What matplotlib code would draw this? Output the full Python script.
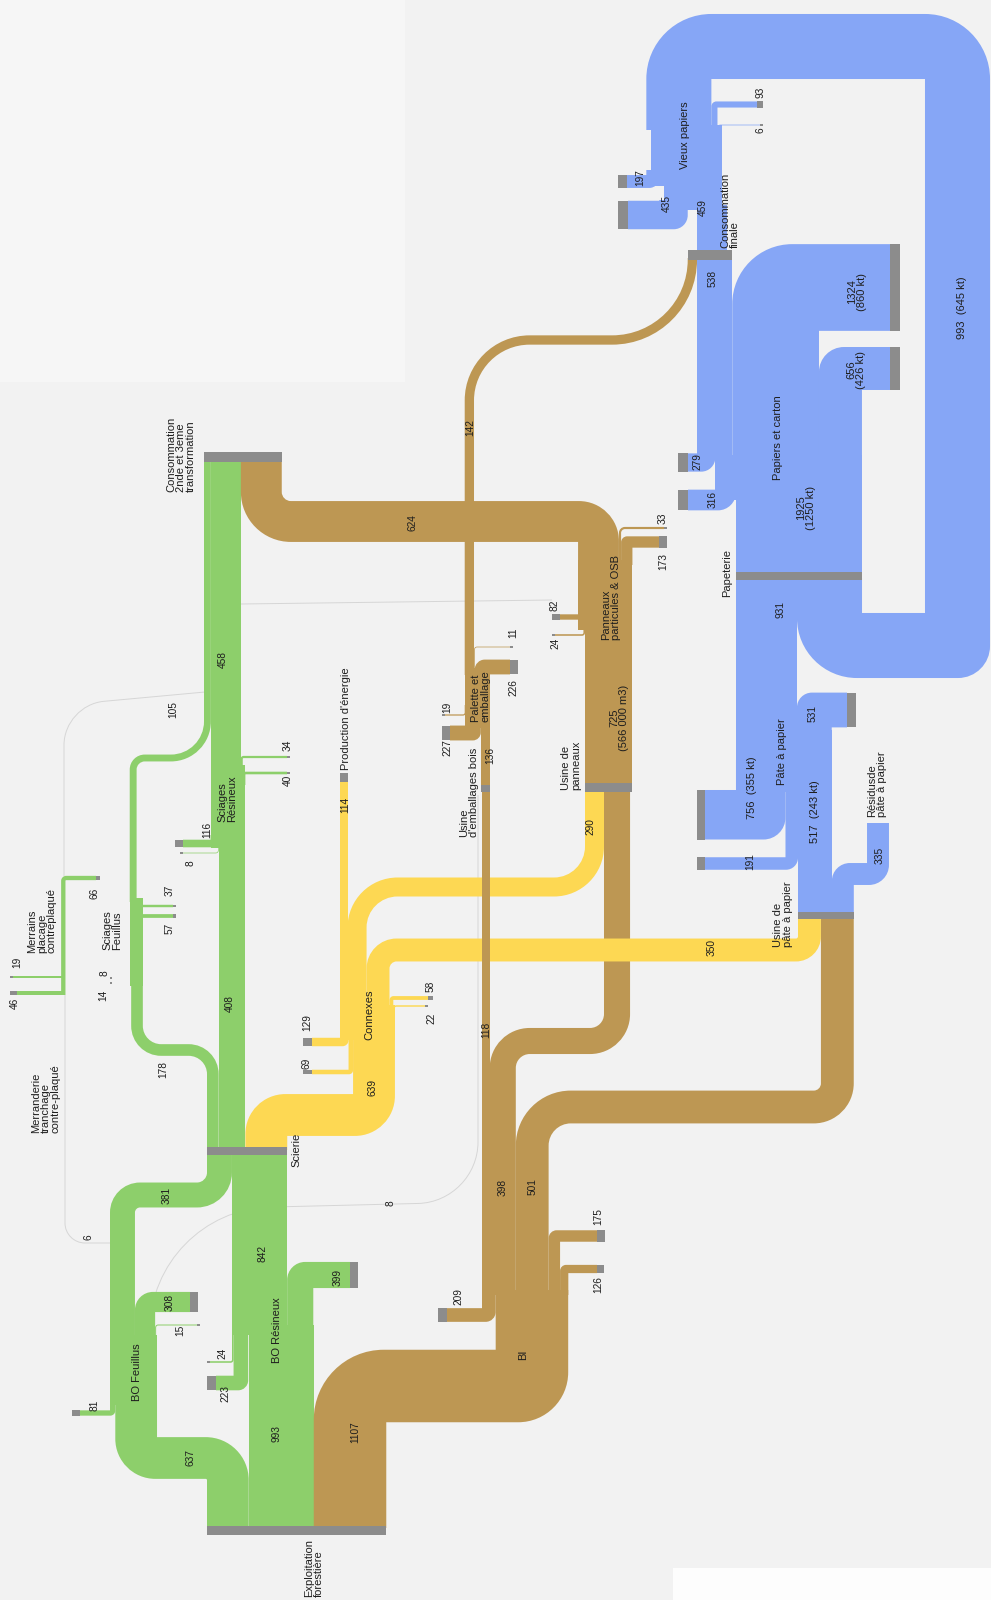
import numpy as np
import matplotlib.pyplot as plt
from matplotlib.path import Path
from matplotlib.patches import PathPatch, Rectangle

plt.rcParams['font.family'] = ['Liberation Sans', 'DejaVu Sans']

# flows
exploit_out = [637, 993, 1107]          # BO Feuillus, BO Résineux, BI
bo_feuillus_in = [81]
bo_feuillus_out = [381, 308, 15, 8, 6]
bo_resineux_in = [24, 223]
bo_resineux_out = [842, 399]
scierie_out = [178, 408, 639]
sc_feuillus_in = [14, 8]
sc_feuillus_out = [105, 37, 57]
sc_resineux_in = [116, 8]
sc_resineux_out = [458, 34, 40]
merrains_in = [46, 19]
merrains_out = [66]
connexes_in = [129, 69]
connexes_out = [114, 290, 350, 58, 22]
bi_in = [209]
bi_out = [118, 398, 501, 175, 126]
emballages_out = [136]
palette_in = [19, 227]
palette_out = [142, 11, 226]
panneaux_in = [82, 24]
panneaux_prod = [725]
panneaux_out = [624, 33, 173]
usine_pate_out = [517, 335]
pate_in = [756, 191]
pate_out = [931, 531]
papeterie_prod = [1925]
papiers_in = [279, 316]
papiers_out = [538, 1324, 656]
conso_finale_out = [459]
vieux_in = [197, 435]
vieux_out = [993, 93, 6]
kt_papier = [1250, 860, 426, 645]   # 1925, 1324, 656, 993
kt_pate = [355, 243]                # 756, 517
m3_panneaux = '566 000'

GREEN = '#8dcf6b'
BROWN = '#bd9753'
YELLOW = '#fdd853'
BLUE = '#86a6f6'
GREY = '#8c8c8c'
BG = '#f2f2f2'
TXT = '#1e1e1e'

K = 0.0655   # px per unit

fig = plt.figure(figsize=(9.91, 16), dpi=100)
fig.patch.set_facecolor(BG)
ax = fig.add_axes([0, 0, 1, 1])
ax.set_xlim(0, 991)
ax.set_ylim(1600, 0)
ax.axis('off')
ax.set_facecolor(BG)

ax.add_patch(Rectangle((0, 0), 405, 382, fc='#f6f6f6', ec='none', zorder=0))
ax.add_patch(Rectangle((673, 1568), 320, 40, fc='#fdfdfd', ec='none', zorder=0))


def px(v):
    return v * K


def stack(x0, vals):
    e = x0 + np.concatenate([[0.0], np.cumsum(vals)]) * K
    return list((e[:-1] + e[1:]) / 2), list(e)


def rounded(poly, rad, closed=True):
    P = [np.asarray(q, float) for q in poly]
    n = len(P)
    kk = 0.5523
    verts, codes = [], []
    for i in range(n):
        p, r = P[i], rad[i]
        if r <= 0 or (not closed and (i == 0 or i == n - 1)):
            verts.append(p)
            codes.append(Path.LINETO)
            continue
        a, b = P[i - 1], P[(i + 1) % n]
        la, lb = np.hypot(*(a - p)), np.hypot(*(b - p))
        ra, rb = rad[i - 1], rad[(i + 1) % n]
        r = min(r, la * r / (r + ra), lb * r / (r + rb))
        t1 = p + (a - p) / la * r
        t2 = p + (b - p) / lb * r
        verts += [t1, t1 + (p - t1) * kk, t2 + (p - t2) * kk, t2]
        codes += [Path.LINETO, Path.CURVE4, Path.CURVE4, Path.CURVE4]
    codes[0] = Path.MOVETO
    if closed:
        verts.append(verts[0])
        codes.append(Path.CLOSEPOLY)
    return Path(verts, codes)


def band(v, pts, color, ro=20, z=2, minw=0.7):
    w = max(px(v), minw)
    p = np.asarray(pts, float)
    d = np.diff(p, axis=0)
    d /= np.hypot(d[:, 0], d[:, 1])[:, None]
    nv = np.column_stack([-d[:, 1], d[:, 0]])
    n = len(p)
    if np.isscalar(ro):
        ro = [ro] * (n - 2)
    L, R, rl, rr = [], [], [0.0] * n, [0.0] * n
    for i in range(n):
        if i == 0:
            m = nv[0]
        elif i == n - 1:
            m = nv[-1]
        else:
            a, b = nv[i - 1], nv[i]
            m = (a + b) / (1 + a @ b)
            c = d[i - 1, 0] * d[i, 1] - d[i - 1, 1] * d[i, 0]
            r_out = ro[i - 1]
            r_in = max(r_out - w, 0)
            if c > 0:
                rl[i], rr[i] = r_in, r_out
            elif c < 0:
                rl[i], rr[i] = r_out, r_in
        L.append(p[i] + m * w / 2)
        R.append(p[i] - m * w / 2)
    path = rounded(L + R[::-1], rl + rr[::-1])
    ax.add_patch(PathPatch(path, fc=color, ec='none', lw=0, zorder=z))


def faint(pts, radii, color='#d6d6d6', lw=0.7):
    path = rounded(pts, [0] + radii + [0], closed=False)
    ax.add_patch(PathPatch(path, fc='none', ec=color, lw=lw, zorder=1))


def bar(x0, x1, y0, y1):
    ax.add_patch(Rectangle((x0, y0), x1 - x0, y1 - y0, fc=GREY, ec='none', zorder=5))


def cap(x0, x1, yc, v):
    h = max(px(v), 1.3)
    bar(x0, x1, yc - h / 2, yc + h / 2)


def txt(s, x, y, size=7.6, ha='center', ma='left'):
    ax.text(x, y, s, rotation=90, rotation_mode='anchor', ha=ha, va='center',
            multialignment=ma, fontsize=size, color=TXT, linespacing=0.95, zorder=10)


def num(v, x, y):
    txt(str(v), x, y, size=7.3)


# ---------------- Exploitation forestière ----------------
c_ex, e_ex = stack(207, exploit_out)
bar(e_ex[0], e_ex[-1], 1526, 1535)
txt('Exploitation\nforestière', 314, 1597, size=8, ha='left')

# ---------------- BO Feuillus ----------------
c_bfi, e_bfi = stack(110, bo_feuillus_in + exploit_out[:1])
band(exploit_out[0], [(c_ex[0], 1528), (c_ex[0], 1458), (c_bfi[1], 1458), (c_bfi[1], 1400)], GREEN, [43, 40])
band(bo_feuillus_in[0], [(80, 1413), (c_bfi[0], 1413), (c_bfi[0], 1400)], GREEN, [5])
cap(72, 80, 1413, bo_feuillus_in[0])
tot_bf = sum(bo_feuillus_in) + exploit_out[0]
band(tot_bf, [(110 + px(tot_bf) / 2, 1405), (110 + px(tot_bf) / 2, 1335)], GREEN)

c_sci, e_sci = stack(207, [bo_feuillus_out[0], bo_resineux_out[0]])
bar(207, e_sci[-1], 1147, 1155)

c_bfo, e_bfo = stack(110, bo_feuillus_out[:3])
band(bo_feuillus_out[0], [(c_bfo[0], 1340), (c_bfo[0], 1195), (c_sci[0], 1195), (c_sci[0], 1152)], GREEN, [30, 35])
band(bo_feuillus_out[1], [(c_bfo[1], 1340), (c_bfo[1], 1302), (190, 1302)], GREEN, [18])
cap(190, 198, 1302, bo_feuillus_out[1])
band(bo_feuillus_out[2], [(c_bfo[2], 1340), (c_bfo[2], 1325), (197, 1325)], GREEN, [3])
cap(197, 200, 1325, bo_feuillus_out[2])

# faint small flows
faint([(112, 1243), (65, 1243), (65, 995)], [20])
faint([(64, 876), (64, 705), (205, 692)], [40])
faint([(150, 1395), (150, 1210), (478, 1202), (478, 795)], [120, 60])
faint([(241, 604), (552, 600)], [])

# ---------------- BO Résineux ----------------
band(exploit_out[1], [(c_ex[1], 1528), (c_ex[1], 1325)], GREEN)
c_bri, _ = stack(232, bo_resineux_in)
band(bo_resineux_in[1], [(216, 1383), (c_bri[1], 1383), (c_bri[1], 1325)], GREEN, [10])
cap(207, 216, 1383, bo_resineux_in[1])
band(bo_resineux_in[0], [(210, 1362), (c_bri[0], 1362), (c_bri[0], 1328)], GREEN, [3])
cap(207, 210, 1362, bo_resineux_in[0])
c_bro, _ = stack(232, bo_resineux_out)
band(bo_resineux_out[0], [(c_bro[0], 1335), (c_bro[0], 1152)], GREEN)
band(bo_resineux_out[1], [(c_bro[1], 1335), (c_bro[1], 1275), (350, 1275)], GREEN, [18])
cap(350, 358, 1275, bo_resineux_out[1])

# ---------------- Scierie outputs ----------------
c_so, e_so = stack(207, scierie_out)
c_cons, e_cons = stack(204, [sc_feuillus_out[0], sc_resineux_out[0], panneaux_out[0]])
bar(204, e_cons[-1], 452, 462)

# Sciages Feuillus
band(scierie_out[0], [(c_so[0], 1150), (c_so[0], 1050), (137, 1050), (137, 980)], GREEN, [30, 30])
tot_sf = scierie_out[0] + sum(sc_feuillus_in)
x0_sf = 137 + px(scierie_out[0]) / 2 - px(tot_sf)
band(tot_sf, [(x0_sf + px(tot_sf) / 2, 986), (x0_sf + px(tot_sf) / 2, 898)], GREEN)
band(sc_feuillus_in[0], [(112, 983), (x0_sf + 1, 983)], GREEN)
cap(110, 112, 983, sc_feuillus_in[0])
band(sc_feuillus_in[1], [(112, 978), (x0_sf + 1, 978)], GREEN)
cap(110, 112, 978, sc_feuillus_in[1])
c_sfo, _ = stack(x0_sf, sc_feuillus_out)
band(sc_feuillus_out[2], [(c_sfo[2], 925), (c_sfo[2], 916), (173, 916)], GREEN, [4])
cap(173, 176, 916, sc_feuillus_out[2])
band(sc_feuillus_out[1], [(c_sfo[1], 920), (c_sfo[1], 906), (173, 906)], GREEN, [4])
cap(173, 176, 906, sc_feuillus_out[1])
band(sc_feuillus_out[0], [(c_sfo[0], 902), (c_sfo[0], 758), (c_cons[0], 758), (c_cons[0], 460)], GREEN, [15, 40])

# Sciages Résineux
band(scierie_out[1], [(c_so[1], 1150), (c_so[1], 843)], GREEN)
tot_sr = scierie_out[1] + sum(sc_resineux_in)
x0_sr = e_so[2] - px(tot_sr)
c_sri, _ = stack(x0_sr, sc_resineux_in)
band(sc_resineux_in[0], [(183, 843.5), (c_sri[0], 843.5), (c_sri[0], 835)], GREEN, [6])
cap(175, 183, 843.5, sc_resineux_in[0])
band(sc_resineux_in[1], [(183, 853), (c_sri[1], 853), (c_sri[1], 838)], GREEN, [3])
cap(180, 183, 853, sc_resineux_in[1])
band(tot_sr, [(x0_sr + px(tot_sr) / 2, 848), (x0_sr + px(tot_sr) / 2, 765)], GREEN)
c_sro, _ = stack(x0_sr, sc_resineux_out)
band(sc_resineux_out[2], [(c_sro[2], 785), (c_sro[2], 773), (287, 773)], GREEN, [3])
cap(287, 290, 773, sc_resineux_out[2])
band(sc_resineux_out[1], [(c_sro[1], 780), (c_sro[1], 757), (287, 757)], GREEN, [3])
cap(287, 290, 757, sc_resineux_out[1])
band(sc_resineux_out[0], [(c_cons[1], 770), (c_cons[1], 460)], GREEN)

# Merrains
c_m = 63.3
band(merrains_out[0], [(c_m, 995), (c_m, 878), (96, 878)], GREEN, [5])
cap(96, 100, 878, merrains_out[0])
band(merrains_in[0], [(17, 993), (c_m + 1, 993)], GREEN)
cap(10, 17, 993, merrains_in[0])
band(merrains_in[1], [(13, 977), (c_m, 977)], GREEN)
cap(10, 13, 977, merrains_in[1])

# ---------------- Connexes (yellow) ----------------
c_up, e_up = stack(585, [connexes_out[1], bi_out[1]])
c_upp, e_upp = stack(798, [connexes_out[2], bi_out[2]])

x_cx = 374
band(scierie_out[2], [(c_so[2], 1150), (c_so[2], 1115), (x_cx, 1115), (x_cx, 1035)], YELLOW, [40, 40], z=3)
x0_cx = x_cx - px(scierie_out[2]) / 2 - px(sum(connexes_in))
c_ci, _ = stack(x0_cx, connexes_in)
band(connexes_in[0], [(312, 1042), (c_ci[0], 1042), (c_ci[0], 1030)], YELLOW, [6], z=3)
cap(303, 312, 1042, connexes_in[0])
band(connexes_in[1], [(312, 1072), (c_ci[1], 1072), (c_ci[1], 1035)], YELLOW, [4], z=3)
cap(303, 312, 1072, connexes_in[1])
tot_cx = scierie_out[2] + sum(connexes_in)
band(tot_cx, [(x0_cx + px(tot_cx) / 2, 1040), (x0_cx + px(tot_cx) / 2, 1005)], YELLOW, z=3)
c_co, _ = stack(x0_cx, connexes_out)
band(connexes_out[0], [(c_co[0], 1010), (c_co[0], 781)], YELLOW, z=3)
bar(c_co[0] - px(connexes_out[0]) / 2, c_co[0] + px(connexes_out[0]) / 2, 773, 782)
band(connexes_out[1], [(c_co[1], 1010), (c_co[1], 887), (c_up[0], 887), (c_up[0], 790)], YELLOW, [50, 50], z=3)
band(connexes_out[2], [(c_co[2], 1010), (c_co[2], 950), (c_upp[0], 950), (c_upp[0], 917)], YELLOW, [30, 25], z=3)
band(connexes_out[3], [(c_co[3], 1010), (c_co[3], 998), (428, 998)], YELLOW, [4], z=3)
cap(428, 433, 998, connexes_out[3])
band(connexes_out[4], [(c_co[4], 1012), (c_co[4], 1006), (425, 1006)], YELLOW, [3], z=3)
cap(425, 428, 1006, connexes_out[4])

# ---------------- BI (brown) ----------------
c_bii, _ = stack(482, bi_in + exploit_out[2:])
band(exploit_out[2], [(c_ex[2], 1528), (c_ex[2], 1386), (c_bii[1], 1386), (c_bii[1], 1290)], BROWN, [70, 50])
band(bi_in[0], [(447, 1315), (c_bii[0], 1315), (c_bii[0], 1292)], BROWN, [10])
cap(438, 447, 1315, bi_in[0])
c_bo, _ = stack(482, bi_out)
band(bi_out[3], [(c_bo[3], 1295), (c_bo[3], 1236), (597, 1236)], BROWN, [8])
cap(597, 605, 1236, bi_out[3])
band(bi_out[4], [(c_bo[4], 1295), (c_bo[4], 1269), (597, 1269)], BROWN, [6])
cap(597, 604, 1269, bi_out[4])
band(bi_out[0], [(c_bo[0], 1295), (c_bo[0], 790)], BROWN, z=4)
band(bi_out[1], [(c_bo[1], 1295), (c_bo[1], 1041), (c_up[1], 1041), (c_up[1], 790)], BROWN, [40, 40])
band(bi_out[2], [(c_bo[2], 1295), (c_bo[2], 1107), (c_upp[1], 1107), (c_upp[1], 917)], BROWN, [55, 40])
bar(585, 585 + px(panneaux_prod[0]), 783, 792)
bar(798, e_upp[-1], 912, 919)

# Usine d'emballages / Palette
x_em = c_bo[0] + px(bi_out[0]) / 2
bar(x_em - px(emballages_out[0]), x_em, 785, 792)
tot_pal = sum(palette_in) + emballages_out[0]
x0_pal = x_em - px(tot_pal)
c_pi, _ = stack(x0_pal, palette_in + emballages_out)
band(emballages_out[0], [(c_pi[2], 787), (c_pi[2], 728)], BROWN, z=4)
band(palette_in[1], [(450, 733), (c_pi[1], 733), (c_pi[1], 722)], BROWN, [8], z=4)
cap(442, 450, 733, palette_in[1])
band(palette_in[0], [(445, 715), (c_pi[0], 715), (c_pi[0], 705)], BROWN, [3], z=4)
cap(442, 445, 715, palette_in[0])
band(tot_pal, [(x0_pal + px(tot_pal) / 2, 728), (x0_pal + px(tot_pal) / 2, 668)], BROWN, z=4)
c_pao2, _ = stack(x0_pal, palette_out)

x0_papiers = 736 + px(papeterie_prod[0]) - px(papeterie_prod[0] + sum(papiers_in))
x0_cf = x0_papiers - px(palette_out[0])
c_cf, e_cf = stack(x0_cf, [palette_out[0], papiers_out[0]])
bar(x0_cf, e_cf[-1], 250, 260)

band(palette_out[2], [(c_pao2[2], 680), (c_pao2[2], 667), (510, 667)], BROWN, [10], z=4)
cap(510, 518, 667, palette_out[2])
band(palette_out[1], [(c_pao2[1], 675), (c_pao2[1], 647), (510, 647)], BROWN, [3], z=4)
cap(510, 513, 647, palette_out[1])
band(palette_out[0], [(c_pao2[0], 675), (c_pao2[0], 340), (c_cf[0], 340), (c_cf[0], 258)], BROWN, [65, 85], z=4)

# Panneaux
c725 = 585 + px(panneaux_prod[0]) / 2
band(panneaux_prod[0], [(c725, 790), (c725, 625)], BROWN)
tot_pan = panneaux_prod[0] + sum(panneaux_in)
x0_pan = 585 + px(panneaux_prod[0]) - px(tot_pan)
c_pni, _ = stack(x0_pan, panneaux_in)
band(panneaux_in[0], [(560, 617), (c_pni[0], 617), (c_pni[0], 605)], BROWN, [5])
cap(552, 560, 617, panneaux_in[0])
band(panneaux_in[1], [(555, 635), (c_pni[1], 635), (c_pni[1], 625)], BROWN, [3])
cap(552, 555, 635, panneaux_in[1])
band(tot_pan, [(x0_pan + px(tot_pan) / 2, 630), (x0_pan + px(tot_pan) / 2, 560)], BROWN)
c_pno, _ = stack(x0_pan, panneaux_out)
band(panneaux_out[0], [(c_pno[0], 565), (c_pno[0], 521.5), (c_cons[2], 521.5), (c_cons[2], 460)], BROWN, [40, 50])
band(panneaux_out[1], [(c_pno[1], 565), (c_pno[1], 528), (664, 528)], BROWN, [6])
cap(664, 667, 528, panneaux_out[1])
band(panneaux_out[2], [(c_pno[2], 565), (c_pno[2], 542), (659, 542)], BROWN, [6])
cap(659, 667, 542, panneaux_out[2])

# ---------------- Papier (blue) ----------------
c_upo, _ = stack(798, usine_pate_out)
band(usine_pate_out[0], [(c_upo[0], 914), (c_upo[0], 740)], BLUE)
band(usine_pate_out[1], [(c_upo[1], 914), (c_upo[1], 874), (878, 874), (878, 823)], BLUE, [18, 20])

x0_pate = 798 - px(sum(pate_in))
c_pin, _ = stack(x0_pate, pate_in)
band(pate_in[0], [(705, 814.75), (c_pin[0], 814.75), (c_pin[0], 760)], BLUE, [22])
cap(697, 705, 814.75, pate_in[0])
band(pate_in[1], [(705, 863.5), (c_pin[1], 863.5), (c_pin[1], 760)], BLUE, [12])
cap(697, 705, 863.5, pate_in[1])
tot_pate = usine_pate_out[0] + sum(pate_in)
band(tot_pate, [(x0_pate + px(tot_pate) / 2, 792), (x0_pate + px(tot_pate) / 2, 730)], BLUE)
c_pto, _ = stack(x0_pate, pate_out)
band(pate_out[1], [(c_pto[1], 740), (c_pto[1], 710), (847, 710)], BLUE, [15])
cap(847, 856, 710, pate_out[1])
band(pate_out[0], [(c_pto[0], 740), (c_pto[0], 578)], BLUE)

c_pap, e_pap = stack(736, [pate_out[0], vieux_out[0]])
bar(736, e_pap[-1], 572, 580)
mid_pap = 736 + px(papeterie_prod[0]) / 2
band(papeterie_prod[0], [(mid_pap, 576), (mid_pap, 495)], BLUE)

c_pai, _ = stack(x0_papiers, papiers_in)
band(papiers_in[1], [(688, 500), (c_pai[1], 500), (c_pai[1], 488)], BLUE, [18])
cap(678, 688, 500, papiers_in[1])
band(papiers_in[0], [(688, 462.5), (c_pai[0], 462.5), (c_pai[0], 452)], BLUE, [14])
cap(678, 688, 462.5, papiers_in[0])
tot_p2 = papeterie_prod[0] + papiers_in[1]
x_p2 = x0_papiers + px(papiers_in[0])
band(tot_p2, [(x_p2 + px(tot_p2) / 2, 500), (x_p2 + px(tot_p2) / 2, 455)], BLUE)
c_ppo, _ = stack(x0_papiers, papiers_out)
band(papiers_out[0], [(c_ppo[0], 460), (c_ppo[0], 258)], BLUE)
band(papiers_out[1], [(c_ppo[1], 460), (c_ppo[1], 287.5), (890, 287.5)], BLUE, [60])
cap(890, 900, 287.5, papiers_out[1])
band(papiers_out[2], [(c_ppo[2], 460), (c_ppo[2], 368.5), (890, 368.5)], BLUE, [25])
cap(890, 900, 368.5, papiers_out[2])

# Vieux papiers
c_cfo, _ = stack(x0_cf + px(palette_out[0]), conso_finale_out)
band(conso_finale_out[0], [(c_cfo[0], 252), (c_cfo[0], 205)], BLUE)
x0_vx = x0_cf - px(sum(vieux_in))
x1_vx = x0_cf + px(palette_out[0]) + px(conso_finale_out[0])
c_vi, _ = stack(x0_vx, vieux_in)
band(vieux_in[1], [(628, 215), (c_vi[1], 215), (c_vi[1], 200)], BLUE, [14])
cap(618, 628, 215, vieux_in[1])
band(vieux_in[0], [(627, 181.5), (c_vi[0], 181.5), (c_vi[0], 170)], BLUE, [10])
cap(618, 627, 181.5, vieux_in[0])
xa = c_vi[1] - px(vieux_in[1]) / 2
band(conso_finale_out[0] + vieux_in[1], [((xa + x1_vx) / 2, 210), ((xa + x1_vx) / 2, 183)], BLUE)
band(conso_finale_out[0] + sum(vieux_in), [((x0_vx + x1_vx) / 2, 186), ((x0_vx + x1_vx) / 2, 125)], BLUE)
c_vo, _ = stack(x0_vx, vieux_out)
band(vieux_out[1], [(c_vo[1], 130), (c_vo[1], 104.5), (757, 104.5)], BLUE, [5])
cap(757, 763, 104.5, vieux_out[1])
band(vieux_out[2], [(c_vo[2], 132), (c_vo[2], 125), (760, 125)], BLUE, [3])
cap(760, 763, 125, vieux_out[2])
band(vieux_out[0], [(c_vo[0], 130), (c_vo[0], 46.5), (957.5, 46.5), (957.5, 645.5),
                    (c_pap[1], 645.5), (c_pap[1], 578)], BLUE, [65, 65, 32, 60])

# ---------------- labels ----------------
txt('BO Feuillus', 137, 1372, size=8)
txt('BO Résineux', 277, 1330, size=8)
txt('Scierie', 296, 1150, size=8)
txt('Merranderie\ntranchage\ncontre-plaqué', 46, 1133, size=8, ha='left')
txt('Merrains\nplacage\ncontreplaqué', 42, 953, size=8, ha='left')
txt('Sciages\nFeuillus', 112, 950, size=8, ha='left')
txt('Sciages\nRésineux', 227, 822, size=8, ha='left')
txt('Connexes', 369, 1015, size=8)
txt("Production d'énergie", 346, 770, size=8, ha='left')
txt('Consommation\n2nde et 3eme\ntransformation', 181, 492, size=8, ha='left')
txt("Usine\nd'emballages bois", 469, 837, size=8, ha='left')
txt('Palette et\nemballage', 481, 722, size=8, ha='left')
txt('Usine de\npanneaux', 571, 790, size=8, ha='left')
txt('Panneaux\nparticules & OSB', 611, 640, size=8, ha='left')
txt('%d\n(%s m3)' % (panneaux_prod[0], m3_panneaux), 619, 718, size=8, ma='center')
txt('BI', 523, 1355, size=8)
txt('Usine de\npâte à papier', 783, 947, size=8, ha='left')
txt('Résidusde\npâte à papier', 877, 817, size=8, ha='left')
txt('Pâte à papier', 782, 752, size=8)
txt('Papeterie', 727, 573, size=8)
txt('Papiers et carton', 778, 438, size=8)
txt('%d\n(%d kt)' % (papeterie_prod[0], kt_papier[0]), 806, 508, size=8, ma='center')
txt('Consommation\nfinale', 730, 248, size=8, ha='left')
txt('Vieux papiers', 685, 135, size=8)

# numbers
num(exploit_out[0], 190, 1458)
num(exploit_out[1], 277, 1433)
num(exploit_out[2], 355, 1432)
num(bo_feuillus_in[0], 95, 1405)
num(bo_resineux_in[1], 225, 1393)
num(bo_resineux_in[0], 222, 1353)
num(bo_feuillus_out[2], 180, 1330)
num(bo_feuillus_out[1], 170, 1302)
num(bo_resineux_out[1], 338, 1277)
num(bo_resineux_out[0], 262, 1253)
num(bo_feuillus_out[4], 89, 1237)
num(bo_feuillus_out[3], 390, 1203)
num(bo_feuillus_out[0], 167, 1195)
num(scierie_out[0], 163, 1070)
num(scierie_out[1], 230, 1003)
num(sc_feuillus_in[0], 103, 995)
num(sc_feuillus_in[1], 105, 973)
num(sc_feuillus_out[2], 170, 928)
num(sc_feuillus_out[1], 170, 890)
num(merrains_out[0], 95, 893)
num(merrains_in[0], 15, 1003)
num(merrains_in[1], 17, 962)
num(sc_resineux_in[0], 207, 830)
num(sc_resineux_in[1], 190, 863)
num(sc_resineux_out[1], 288, 745)
num(sc_resineux_out[2], 288, 780)
num(sc_feuillus_out[0], 173, 710)
num(sc_resineux_out[0], 223, 660)

num(scierie_out[2], 373, 1087)
num(connexes_in[0], 307, 1023)
num(connexes_in[1], 307, 1063)
num(connexes_out[3], 431, 986)
num(connexes_out[4], 431, 1018)
num(connexes_out[0], 345, 805)
num(connexes_out[1], 590, 827)
num(connexes_out[2], 712, 947)

num(bi_in[0], 458, 1297)
num(bi_out[3], 598, 1217)
num(bi_out[4], 598, 1285)
num(bi_out[1], 503, 1187)
num(bi_out[2], 533, 1187)
num(bi_out[0], 486, 1030)
num(emballages_out[0], 490, 755)
num(palette_in[1], 447, 748)
num(palette_in[0], 447, 707)
num(palette_out[2], 513, 688)
num(palette_out[1], 513, 633)
num(palette_out[0], 470, 428)
num(panneaux_in[0], 555, 605)
num(panneaux_in[1], 555, 643)
num(panneaux_out[1], 663, 518)
num(panneaux_out[2], 663, 562)
num(panneaux_out[0], 412, 523)

txt('%d  (%d kt)' % (usine_pate_out[0], kt_pate[1]), 815, 812, size=8)
num(usine_pate_out[1], 880, 855)
num(pate_out[1], 813, 713)
txt('%d  (%d kt)' % (pate_in[0], kt_pate[0]), 752, 788, size=8)
num(pate_in[1], 750, 862)
num(pate_out[0], 780, 610)
num(papiers_in[0], 697, 462)
num(papiers_in[1], 713, 500)
num(papiers_out[0], 713, 278)
txt('%d\n(%d kt)' % (papiers_out[1], kt_papier[1]), 857, 292, size=8, ma='center')
txt('%d\n(%d kt)' % (papiers_out[2], kt_papier[2]), 856, 370, size=8, ma='center')
txt('%d  (%d kt)' % (vieux_out[0], kt_papier[3]), 962, 308, size=8)
num(conso_finale_out[0], 703, 208)
num(vieux_in[1], 667, 203)
num(vieux_in[0], 640, 178)
num(vieux_out[1], 760, 92)
num(vieux_out[2], 760, 130)

fig.savefig('out.png', dpi=100, facecolor=BG)
